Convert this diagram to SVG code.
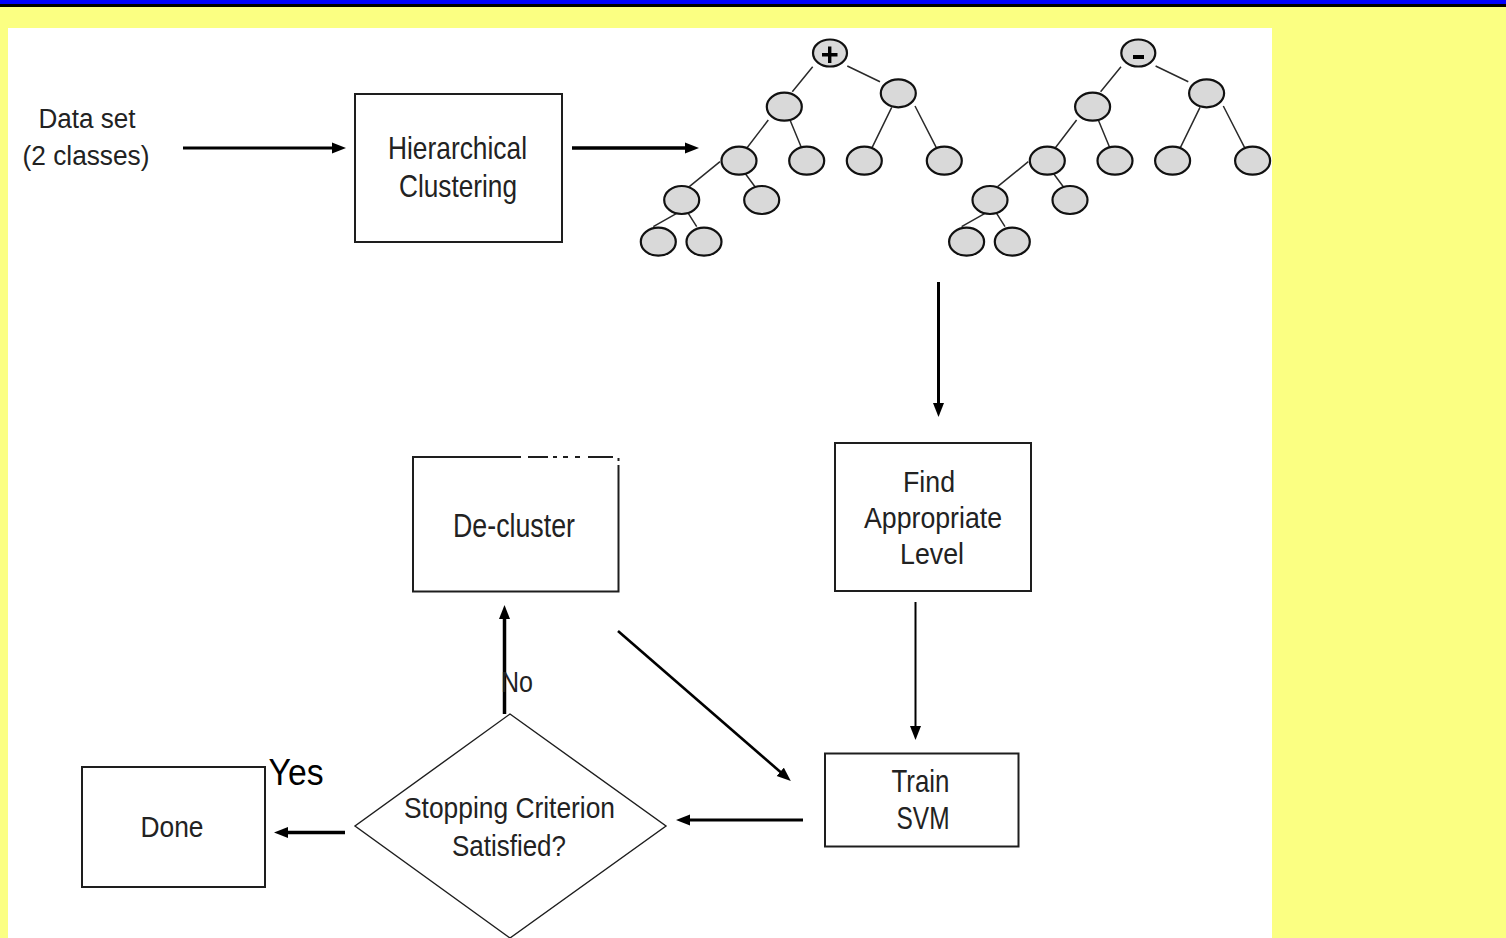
<svg xmlns="http://www.w3.org/2000/svg" xmlns:xlink="http://www.w3.org/1999/xlink" width="1506" height="938" viewBox="0 0 1506 938">
  <style>
    .box { fill: #ffffff; stroke: #1e1e1e; stroke-width: 2; }
    .thin { fill: #ffffff; stroke: #1e1e1e; stroke-width: 1.4; }
    .lbl { font-family: "Liberation Sans", Arial, sans-serif; fill: #222222; text-anchor: middle; }
    .conn { stroke: #000000; fill: none; }
    .tnode { fill: #d9d9d9; stroke: #111111; stroke-width: 2.2; }
    .tedge { stroke: #2a2a2a; stroke-width: 1.5; fill: none; }
  </style>
  <defs>
    <marker id="ah" viewBox="0 0 14 12" refX="1" refY="6" markerWidth="14" markerHeight="12" markerUnits="userSpaceOnUse" orient="auto">
      <path d="M0,0.5 L14,6 L0,11.5 Z" fill="#000000"/>
    </marker>
    <!-- binary cluster tree: edges first, then the node ellipses on top -->
    <g id="tree">
      <path class="tedge" d="M812.7,66.7 L792.3,91.7 M847.3,66 L880,81.7 M768.3,120 L746.7,148.3 M790,120 L801.7,148.3 M891.7,107.3 L871.7,148.3 M915,106 L936.7,148.3 M720,161.7 L689.3,186.7 M745,173.3 L755,186.7 M676.7,213.3 L653.3,226.7 M688.3,213.3 L696.7,226.7"/>
      <ellipse class="tnode" cx="830" cy="53" rx="17" ry="13.5"/>
      <ellipse class="tnode" cx="784.3" cy="106.7" rx="17.5" ry="14"/>
      <ellipse class="tnode" cx="898.3" cy="93.3" rx="17.5" ry="14"/>
      <ellipse class="tnode" cx="739" cy="160.7" rx="17.5" ry="14"/>
      <ellipse class="tnode" cx="806.7" cy="160.7" rx="17.5" ry="14"/>
      <ellipse class="tnode" cx="864.3" cy="160.7" rx="17.5" ry="14"/>
      <ellipse class="tnode" cx="944.3" cy="160.7" rx="17.5" ry="14"/>
      <ellipse class="tnode" cx="681.7" cy="200" rx="17.5" ry="14"/>
      <ellipse class="tnode" cx="761.7" cy="200" rx="17.5" ry="14"/>
      <ellipse class="tnode" cx="658.3" cy="241.7" rx="17.5" ry="14"/>
      <ellipse class="tnode" cx="704" cy="241.7" rx="17.5" ry="14"/>
    </g>
  </defs>

  <!-- page background and title rule -->
  <rect x="0" y="0" width="1506" height="938" fill="#fbff82"/>
  <rect x="0" y="0" width="1506" height="4" fill="#0000ff"/>
  <rect x="0" y="4" width="1506" height="3" fill="#000000"/>
  <rect x="8" y="28" width="1264" height="910" fill="#ffffff"/>

  <!-- connectors -->
  <g id="connectors">
    <line class="conn" x1="183" y1="148" x2="333" y2="148" stroke-width="3" marker-end="url(#ah)"/>
    <line class="conn" x1="572" y1="148" x2="686" y2="148" stroke-width="3.5" marker-end="url(#ah)"/>
    <line class="conn" x1="938.5" y1="282" x2="938.5" y2="404" stroke-width="3" marker-end="url(#ah)"/>
    <line class="conn" x1="915.5" y1="602" x2="915.5" y2="727" stroke-width="2" marker-end="url(#ah)"/>
    <line class="conn" x1="618" y1="631" x2="781" y2="772.5" stroke-width="2.6" marker-end="url(#ah)"/>
    <line class="conn" x1="803" y1="820" x2="689" y2="820" stroke-width="3" marker-end="url(#ah)"/>
    <line class="conn" x1="504.5" y1="714" x2="504.5" y2="618" stroke-width="3.5" marker-end="url(#ah)"/>
    <line class="conn" x1="345" y1="832.5" x2="287" y2="832.5" stroke-width="3.5" marker-end="url(#ah)"/>
  </g>

  <g id="dataset">
    <text class="lbl" x="87" y="127.5" font-size="27" textLength="97" lengthAdjust="spacingAndGlyphs">Data set</text>
    <text class="lbl" x="86" y="164.5" font-size="27" textLength="127" lengthAdjust="spacingAndGlyphs">(2 classes)</text>
  </g>

  <g id="hierarchical-clustering">
    <rect class="box" x="355" y="94" width="207" height="148"/>
    <text class="lbl" x="457.5" y="158.5" font-size="30.5" textLength="139" lengthAdjust="spacingAndGlyphs">Hierarchical</text>
    <text class="lbl" x="458" y="196.5" font-size="30.5" textLength="118" lengthAdjust="spacingAndGlyphs">Clustering</text>
  </g>

  <g id="tree-positive">
    <use xlink:href="#tree"/>
    <path d="M822,54.7 H837.5 M829.7,46.5 V63" stroke="#000000" stroke-width="3.4" fill="none"/>
  </g>

  <g id="tree-negative">
    <use xlink:href="#tree" transform="translate(308.3,0)"/>
    <rect x="1133" y="55" width="11" height="4" fill="#000000"/>
  </g>

  <g id="find-level">
    <rect class="box" x="835" y="443" width="196" height="148"/>
    <text class="lbl" x="929" y="492" font-size="29.5" textLength="52" lengthAdjust="spacingAndGlyphs">Find</text>
    <text class="lbl" x="933" y="528" font-size="29.5" textLength="138" lengthAdjust="spacingAndGlyphs">Appropriate</text>
    <text class="lbl" x="932" y="564" font-size="29.5" textLength="64" lengthAdjust="spacingAndGlyphs">Level</text>
  </g>

  <g id="train-svm">
    <rect class="box" x="825" y="753.5" width="193.5" height="93"/>
    <text class="lbl" x="920.5" y="791.5" font-size="32" textLength="58" lengthAdjust="spacingAndGlyphs">Train</text>
    <text class="lbl" x="923" y="829" font-size="32" textLength="53" lengthAdjust="spacingAndGlyphs">SVM</text>
  </g>

  <g id="de-cluster">
    <path d="M521,457 H413 V591.5 H618.5 V465" fill="#ffffff" stroke="#1e1e1e" stroke-width="2"/>
    <path d="M528,457 H548 M553,457 H557 M563,457 H568 M575,457 H580 M588,457 H613 M618.5,458 V461" stroke="#1e1e1e" stroke-width="2" fill="none"/>
    <text class="lbl" x="514" y="537" font-size="34" textLength="122" lengthAdjust="spacingAndGlyphs">De-cluster</text>
  </g>

  <g id="stopping-criterion">
    <polygon class="thin" points="510,714 666,826 510,938 355,826"/>
    <text class="lbl" x="509.5" y="818" font-size="30" textLength="211" lengthAdjust="spacingAndGlyphs">Stopping Criterion</text>
    <text class="lbl" x="509" y="856" font-size="30" textLength="114" lengthAdjust="spacingAndGlyphs">Satisfied?</text>
  </g>

  <g id="done">
    <rect class="box" x="82" y="767" width="183" height="120" stroke-width="1.6"/>
    <text class="lbl" x="172" y="837" font-size="30" textLength="63" lengthAdjust="spacingAndGlyphs">Done</text>
  </g>

  <g id="edge-labels">
    <text class="lbl" x="517" y="692" font-size="30" textLength="32" lengthAdjust="spacingAndGlyphs">No</text>
    <text class="lbl" x="296" y="785" font-size="36" textLength="55" lengthAdjust="spacingAndGlyphs" style="fill:#000000">Yes</text>
  </g>
</svg>
